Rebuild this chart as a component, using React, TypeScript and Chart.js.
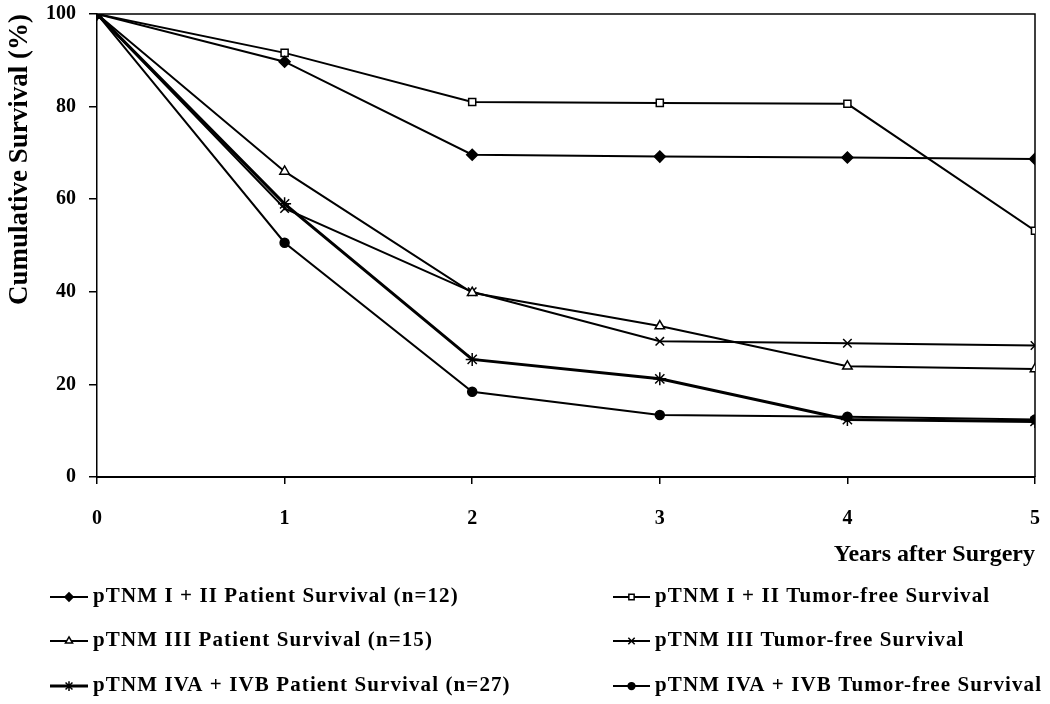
import React, { useEffect, useRef } from 'react';
import { Chart, registerables } from 'chart.js';
import { drawPoint } from 'chart.js/helpers';

Chart.register(...registerables);

// ---- data ----
const years = [0, 1, 2, 3, 4, 5];
const yTickValues = [0, 20, 40, 60, 80, 100];
const seriesNames = [
  'pTNM I + II Patient Survival (n=12)',
  'pTNM I + II Tumor-free Survival',
  'pTNM III Patient Survival (n=15)',
  'pTNM III Tumor-free Survival',
  'pTNM IVA + IVB Patient Survival (n=27)',
  'pTNM IVA + IVB Tumor-free Survival',
];
const stage12Patient = [100, 89.7, 69.6, 69.2, 69.0, 68.7];
const stage12TumorFree = [100, 91.6, 81.0, 80.8, 80.6, 53.2];
const stage3Patient = [100, 66.0, 39.8, 32.6, 23.9, 23.3];
const stage3TumorFree = [100, 58.0, 40.0, 29.3, 28.9, 28.4];
const stage4Patient = [100, 59.0, 25.4, 21.2, 12.4, 12.0];
const stage4TumorFree = [100, 50.6, 18.4, 13.4, 13.0, 12.4];
const xTitle = 'Years after Surgery';
const yTitle = 'Cumulative Survival (%)';

const FONT = "'Liberation Serif', 'Times New Roman', serif";

const seriesValues = [
  stage12Patient,
  stage12TumorFree,
  stage3Patient,
  stage3TumorFree,
  stage4Patient,
  stage4TumorFree,
];

const seriesStyles = [
  { pointStyle: 'rectRot', radius: 5.5, fill: '#000', lw: 2 },
  { pointStyle: 'rect', radius: 5, fill: '#fff', lw: 2 },
  { pointStyle: 'triangle', radius: 5.5, fill: '#fff', lw: 2 },
  { pointStyle: 'crossRot', radius: 6, fill: '#000', lw: 2 },
  { pointStyle: 'star', radius: 6.5, fill: '#000', lw: 3 },
  { pointStyle: 'circle', radius: 4.5, fill: '#000', lw: 2 },
];

const framePlugin = {
  id: 'frame',
  beforeDatasetsDraw(chart: any) {
    const { ctx, chartArea } = chart;
    ctx.save();
    ctx.strokeStyle = '#000';
    ctx.lineWidth = 1.5;
    ctx.beginPath();
    ctx.moveTo(chartArea.left, chartArea.top);
    ctx.lineTo(chartArea.right, chartArea.top);
    ctx.lineTo(chartArea.right, chartArea.bottom);
    ctx.stroke();
    ctx.restore();
  },
};

const legendPlugin = {
  id: 'twoColLegend',
  afterDraw(chart: any) {
    const ctx = chart.ctx;
    const cols = [
      { x0: 50, x1: 88, tx: 93 },
      { x0: 613, x1: 650, tx: 655 },
    ];
    const rows = [597, 641, 686];
    chart.data.datasets.forEach((ds: any, i: number) => {
      const col = cols[i % 2];
      const y = rows[Math.floor(i / 2)];
      ctx.save();
      ctx.strokeStyle = '#000';
      ctx.lineWidth = ds.borderWidth;
      ctx.beginPath();
      ctx.moveTo(col.x0, y);
      ctx.lineTo(col.x1, y);
      ctx.stroke();
      ctx.fillStyle = ds.pointBackgroundColor;
      ctx.strokeStyle = '#000';
      ctx.lineWidth = 1.5;
      drawPoint(
        ctx,
        { pointStyle: ds.pointStyle, radius: ds.pointRadius * 0.75, rotation: 0, borderWidth: 1.5 },
        (col.x0 + col.x1) / 2,
        y
      );
      ctx.fillStyle = '#000';
      ctx.font = `bold 21px ${FONT}`;
      (ctx as any).letterSpacing = '1.1px';
      ctx.textBaseline = 'middle';
      ctx.textAlign = 'left';
      ctx.fillText(ds.label, col.tx, y);
      ctx.restore();
    });
  },
};

const zeroPadding = (s: any) => {
  s.paddingTop = 0;
  s.paddingBottom = 0;
  s.paddingLeft = 0;
  s.paddingRight = 0;
};

export default function App() {
  const ref = useRef<HTMLCanvasElement>(null);
  useEffect(() => {
    if (!ref.current) return;
    const datasets = seriesValues.map((vals, i) => ({
      label: seriesNames[i],
      data: vals.map((v, j) => ({ x: years[j], y: v })),
      borderColor: '#000',
      borderWidth: seriesStyles[i].lw,
      pointStyle: seriesStyles[i].pointStyle as any,
      pointRadius: seriesStyles[i].radius,
      pointBackgroundColor: seriesStyles[i].fill,
      pointBorderColor: '#000',
      pointBorderWidth: 1.5,
      tension: 0,
      fill: false,
    }));
    const chart = new Chart(ref.current, {
      type: 'line',
      data: { datasets },
      plugins: [framePlugin, legendPlugin],
      options: {
        responsive: false,
        animation: false,
        layout: { autoPadding: false, padding: { left: 0, right: 15, top: 14, bottom: 131 } },
        plugins: { legend: { display: false }, tooltip: { enabled: false } },
        scales: {
          x: {
            type: 'linear',
            min: 0,
            max: 5,
            afterFit: (s: any) => { s.height = 96; zeroPadding(s); },
            afterBuildTicks: (s: any) => { s.ticks = years.map((v) => ({ value: v })); },
            ticks: {
              color: '#000',
              font: { family: FONT, size: 20, weight: 'bold' },
              padding: 23,
              maxRotation: 0,
            },
            grid: { drawOnChartArea: false, drawTicks: true, tickLength: 7, color: '#000', lineWidth: 1.5 },
            border: { display: true, color: '#000', width: 2 },
            title: {
              display: true,
              text: xTitle,
              align: 'end',
              color: '#000',
              font: { family: FONT, size: 24, weight: 'bold' },
              padding: { top: 0, bottom: 4 },
            },
          },
          y: {
            type: 'linear',
            min: 0,
            max: 100,
            afterFit: (s: any) => { s.width = 97; zeroPadding(s); },
            afterBuildTicks: (s: any) => { s.ticks = yTickValues.map((v) => ({ value: v })); },
            ticks: {
              color: '#000',
              font: { family: FONT, size: 20, weight: 'bold' },
              padding: 13,
            },
            grid: { drawOnChartArea: false, drawTicks: true, tickLength: 8, color: '#000', lineWidth: 1.5 },
            border: { display: true, color: '#000', width: 1.5 },
            title: {
              display: true,
              text: yTitle,
              align: 'end',
              color: '#000',
              font: { family: FONT, size: 27, weight: 'bold' },
              padding: { top: 4, bottom: 4 },
            },
          },
        },
      },
    });
    return () => chart.destroy();
  }, []);
  return (
    <div style={{ position: 'fixed', left: 0, top: 0, width: 1050, height: 704, background: '#fff' }}>
      <canvas ref={ref} width={1050} height={704} />
    </div>
  );
}
